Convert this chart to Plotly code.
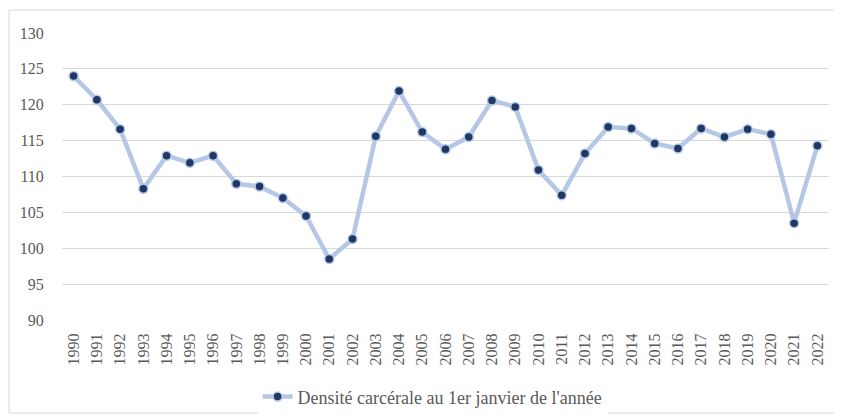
import plotly.graph_objects as go

years = [str(y) for y in range(1990, 2023)]
densite = [
    124.0, 120.7, 116.6, 108.3, 112.9, 111.9, 112.9, 109.0, 108.6, 107.0,
    104.5, 98.5, 101.3, 115.6, 121.9, 116.2, 113.8, 115.5, 120.6, 119.7,
    110.9, 107.4, 113.2, 116.9, 116.7, 114.6, 113.9, 116.7, 115.5, 116.6,
    115.9, 103.5, 114.3,
]
series_name = "Densité carcérale au 1er janvier de l'année"

LINE = "#B4C7E7"
MARKER = "#1F3864"
GRID = "#D9D9D9"
TEXT = "#595959"
FONT = "Liberation Serif"

fig = go.Figure(go.Scatter(
    x=years,
    y=densite,
    mode="lines+markers",
    name=series_name,
    line={"color": LINE, "width": 4.5},
    marker={"color": MARKER, "size": 9, "line": {"color": LINE, "width": 1.5}},
))

fig.update_xaxes(
    type="category",
    range=[-0.5, len(years) - 0.5],
    tickangle=-90,
    showgrid=False,
    showline=False,
    automargin=False,
    ticks="outside",
    ticklen=6,
    tickcolor="rgba(0,0,0,0)",
    tickfont={"family": FONT, "size": 16, "color": TEXT},
)
fig.update_yaxes(
    range=[90, 130],
    dtick=5,
    showgrid=True,
    gridcolor=GRID,
    gridwidth=1,
    zeroline=False,
    showline=False,
    automargin=False,
    ticks="outside",
    ticklen=14,
    tickcolor="rgba(0,0,0,0)",
    tickfont={"family": FONT, "size": 16, "color": TEXT},
)

# chart frame (Excel-style outer border)
fig.add_shape(
    type="rect", xref="paper", yref="paper",
    x0=-0.069, x1=1.05, y0=-0.324, y1=1.080,
    line={"color": GRID, "width": 1}, fillcolor="rgba(0,0,0,0)", layer="below",
)

# page body adds an 8px offset, so the figure is shrunk by that amount
fig.update_layout(
    width=834,
    height=408,
    margin={"l": 54, "r": 13, "t": 25, "b": 96, "autoexpand": False},
    paper_bgcolor="white",
    plot_bgcolor="white",
    showlegend=True,
    legend={
        "orientation": "h",
        "x": 0.255,
        "xanchor": "left",
        "y": -0.268,
        "yanchor": "middle",
        "font": {"family": FONT, "size": 18, "color": TEXT},
    },
    font={"family": FONT, "color": TEXT},
)

fig.write_html("out.html")
